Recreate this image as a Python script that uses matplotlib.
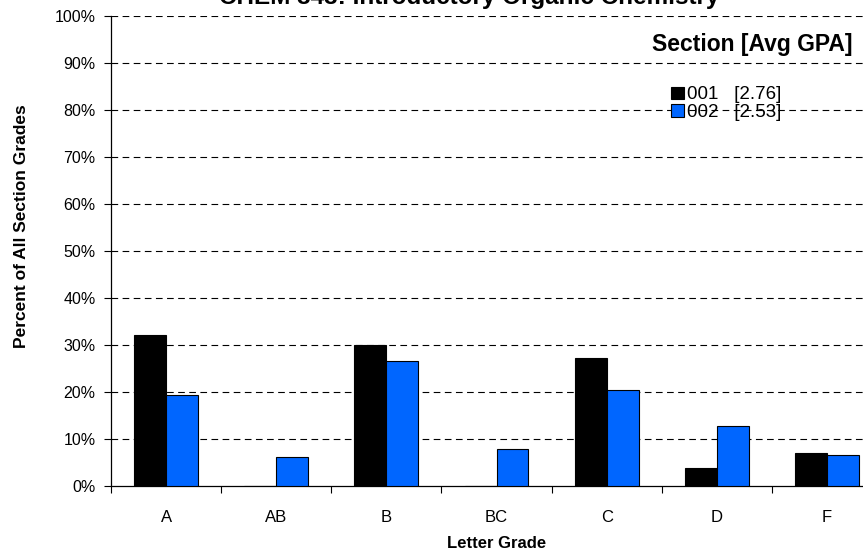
import numpy as np
import matplotlib.pyplot as plt
from matplotlib.ticker import PercentFormatter

plt.rcParams['font.family'] = ['Liberation Sans', 'DejaVu Sans']

grades = ['A', 'AB', 'B', 'BC', 'C', 'D', 'F']
sec001 = [32.1, 0.0, 30.0, 0.0, 27.2, 3.8, 7.0]
sec002 = [19.4, 6.2, 26.6, 7.9, 20.4, 12.8, 6.6]
sections = ['001', '002']
gpas = ['2.76', '2.53']
colors = ['black', '#0066ff']

fig = plt.figure(figsize=(8.63, 5.57), dpi=100)
# axes runs a bit past the right edge, like the cropped original
ax = fig.add_axes([111/863, 71/557, 771/863, 470/557])

x = np.arange(len(grades))
w = 0.29
b1 = ax.bar(x - w/2, sec001, w, color=colors[0], edgecolor='black', linewidth=0.8, zorder=3)
b2 = ax.bar(x + w/2, sec002, w, color=colors[1], edgecolor='black', linewidth=0.8, zorder=3)

ax.set_xlim(-0.5, len(grades) - 0.5)
ax.set_ylim(0, 100)
ax.set_yticks(np.arange(0, 101, 10))
ax.yaxis.set_major_formatter(PercentFormatter(decimals=0))
ax.set_xticks(x)
ax.set_xticklabels(grades)
ax.set_xticks(np.arange(-0.5, len(grades), 1), minor=True)
ax.tick_params(axis='x', which='major', length=0, pad=17, labelsize=12)
ax.tick_params(axis='x', which='minor', length=5, width=0.8, direction='out')
ax.tick_params(axis='y', length=5, width=0.8, labelsize=11.5, pad=6)

for v in range(10, 101, 10):
    ax.axhline(v, color='black', linestyle=(0, (6, 4)), linewidth=0.8, zorder=1)

for s in ['top', 'right']:
    ax.spines[s].set_visible(False)
ax.spines['left'].set_linewidth(0.9)
ax.spines['bottom'].set_linewidth(0.9)

ax.set_ylabel('Percent of All Section Grades', fontsize=12.5, fontweight='bold')
ax.yaxis.set_label_coords(-0.106, 0.553)
ax.set_xlabel('Letter Grade', fontsize=12, fontweight='bold', labelpad=8)

fig.text(469/863, 553/557, 'CHEM 343: Introductory Organic Chemistry',
         ha='center', va='baseline', fontsize=17.5, fontweight='bold')

fig.text(852/863, 512/557, 'Section [Avg GPA]', ha='right', va='center',
         fontsize=16.5, fontweight='bold')
labels = [s + '   [' + g + ']' for s, g in zip(sections, gpas)]
leg = fig.legend([b1, b2], labels, loc='upper left', bbox_to_anchor=(662/863, 480/557),
                 frameon=False, fontsize=13.5, handlelength=0.65, handleheight=0.65,
                 handletextpad=0.2, labelspacing=0.05, borderpad=0)

fig.savefig('out.png', dpi=100)
